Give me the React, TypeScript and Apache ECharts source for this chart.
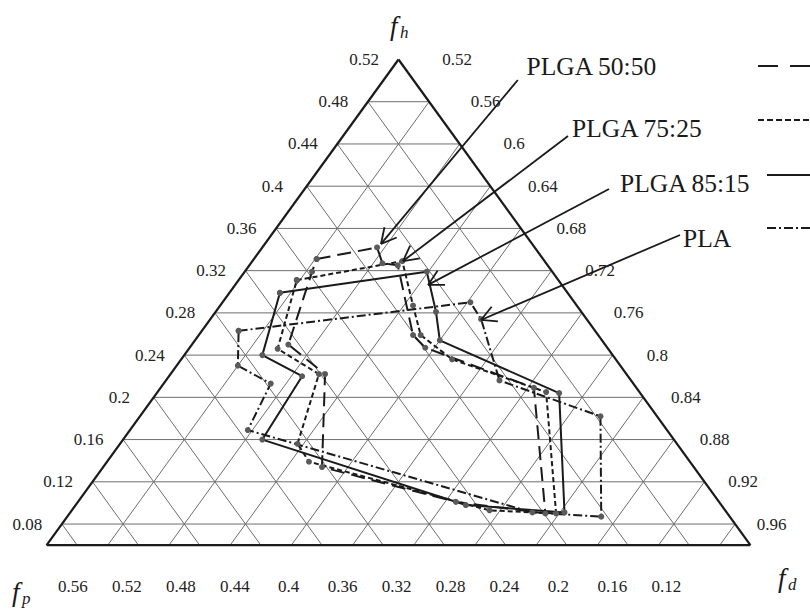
import { useEffect, useRef } from "react";
import * as echarts from "echarts";

// Tick values printed along the three sides of the Teas diagram
const fhTicks = [0.52, 0.48, 0.44, 0.4, 0.36, 0.32, 0.28, 0.24, 0.2, 0.16, 0.12, 0.08];
const fdTicks = [0.52, 0.56, 0.6, 0.64, 0.68, 0.72, 0.76, 0.8, 0.84, 0.88, 0.92, 0.96];
const fpTicks = [0.56, 0.52, 0.48, 0.44, 0.4, 0.36, 0.32, 0.28, 0.24, 0.2, 0.16, 0.12];

const polymers = ["PLGA 50:50", "PLGA 75:25", "PLGA 85:15", "PLA"];

// Solubility region outlines, as fractional parameters (fd, fh)
const plga5050Fd = [0.561, 0.595, 0.606, 0.617, 0.66, 0.674, 0.764, 0.831, 0.767, 0.663, 0.621, 0.583, 0.564];
const plga5050Fh = [0.331, 0.342, 0.327, 0.325, 0.259, 0.247, 0.209, 0.09, 0.101, 0.134, 0.222, 0.25, 0.319];

const plga7525Fd = [0.558, 0.618, 0.646, 0.665, 0.697, 0.774, 0.838, 0.793, 0.652, 0.636, 0.617, 0.578];
const plga7525Fh = [0.311, 0.329, 0.287, 0.259, 0.236, 0.205, 0.09, 0.093, 0.139, 0.156, 0.222, 0.246];

const plga8515Fd = [0.553, 0.639, 0.664, 0.68, 0.783, 0.843, 0.775, 0.611, 0.607, 0.571];
const plga8515Fh = [0.299, 0.319, 0.281, 0.254, 0.204, 0.091, 0.098, 0.16, 0.22, 0.24];

const plaFd = [0.544, 0.682, 0.697, 0.738, 0.821, 0.869, 0.822, 0.597, 0.59, 0.56];
const plaFh = [0.263, 0.29, 0.274, 0.216, 0.182, 0.087, 0.091, 0.169, 0.213, 0.23];

// Triangle limits
const FH_MIN = 0.06;
const FH_MAX = 0.52;

// (fd, fh) -> plane coordinates: horizontal X, vertical fh
const toPlane = (fd: number, fh: number) => [2 * fd + fh - 1.56, fh];

const SERIF = "Liberation Serif";
const INK = "#1a1a1a";

type Seg = [number, number, number, number];

function lattice(): Seg[] {
  const segs: Seg[] = [];
  const inner = fhTicks.filter((h) => h < FH_MAX && h > FH_MIN);
  inner.forEach((h) => {
    const half = FH_MAX - h;
    segs.push([-half, h, half, h]);
  });
  fdTicks.filter((d) => d > 0.52).forEach((d) => {
    segs.push([d - 0.52, 1.04 - d, 2 * d - 1.5, FH_MIN]);
  });
  inner.forEach((h) => {
    segs.push([h - 0.52, h, 2 * h - 0.58, FH_MIN]);
  });
  return segs;
}

const halfBase = FH_MAX - FH_MIN;
const frame: Seg[] = [
  [0, FH_MAX, -halfBase, FH_MIN],
  [-halfBase, FH_MIN, halfBase, FH_MIN],
  [halfBase, FH_MIN, 0, FH_MAX],
];

// Annotation layout in plane coordinates
const annotations = [
  { start: [0.156, 0.5006], tip: [-0.0229, 0.3453], label: [0.1673, 0.5133] },
  { start: [0.2216, 0.4475], tip: [0.0059, 0.3291], label: [0.2268, 0.4542] },
  { start: [0.2752, 0.3974], tip: [0.0386, 0.3065], label: [0.2895, 0.4021] },
  { start: [0.368, 0.3538], tip: [0.1078, 0.2733], label: [0.3719, 0.3509] },
];

const segRender = (style: any) => (_p: any, api: any) => {
  const a = api.coord([api.value(0), api.value(1)]);
  const b = api.coord([api.value(2), api.value(3)]);
  return {
    type: "line",
    shape: { x1: a[0], y1: a[1], x2: b[0], y2: b[1] },
    style,
  };
};

const textRender = (texts: string[]) => (params: any, api: any) => {
  const p = api.coord([api.value(0), api.value(1)]);
  return {
    type: "text",
    x: p[0],
    y: p[1],
    style: {
      text: texts[params.dataIndex],
      fontSize: 17,
      fontFamily: SERIF,
      fill: "#222",
      align: "center",
      verticalAlign: "middle",
      textAlign: "center",
      textVerticalAlign: "middle",
    },
  };
};

function outline(fd: number[], fh: number[]) {
  const pts = fd.map((d, i) => toPlane(d, fh[i]));
  return [...pts, pts[0]];
}

export default function App() {
  const ref = useRef<HTMLDivElement>(null);

  useEffect(() => {
    document.body.style.margin = "0";
    if (!ref.current) return;
    const chart = echarts.init(ref.current, undefined, { renderer: "svg" });

    const fhLabelData = fhTicks.map((h) => [-(FH_MAX - h) - 0.045, h]);
    const fdLabelData = fdTicks.map((d) => [(d - 0.52) * 0.935 + 0.0765, 1.04 - d]);
    const fpLabelData = fpTicks.map((_, i) => [-0.4255 + 0.0705 * i, 0.0213]);

    const lineStyles: any[] = [
      { type: [14, 7], width: 2, color: INK },
      { type: [5, 3], width: 2, color: INK },
      { type: "solid", width: 2, color: INK },
      { type: [9, 3, 2, 3], width: 2, color: INK },
    ];
    const outlines = [
      outline(plga5050Fd, plga5050Fh),
      outline(plga7525Fd, plga7525Fh),
      outline(plga8515Fd, plga8515Fh),
      outline(plaFd, plaFh),
    ];

    const dataSeries = outlines.map((data, i) => ({
      type: "line",
      name: polymers[i],
      data,
      symbol: "circle",
      symbolSize: 6,
      showSymbol: true,
      itemStyle: { color: "#5a5a5a" },
      lineStyle: lineStyles[i],
      silent: true,
      z: 5,
    }));

    const legendY = [66, 120, 175, 228];
    const legendX0 = [758, 758, 767, 767];
    const legendDash: any[] = [[20, 12], [6, 3], null, [9, 3, 2, 3]];

    const axisTitle = (x: number, y: number, main: string, sub: string) => [
      {
        type: "text",
        x,
        y,
        style: {
          text: main,
          fontSize: 27,
          fontStyle: "italic",
          fontFamily: SERIF,
          fill: INK,
          align: "left",
          verticalAlign: "middle",
          textAlign: "left",
          textVerticalAlign: "middle",
        },
      },
      {
        type: "text",
        x: x + 10,
        y: y + 6,
        style: {
          text: sub,
          fontSize: 17,
          fontStyle: "italic",
          fontFamily: SERIF,
          fill: INK,
          align: "left",
          verticalAlign: "middle",
          textAlign: "left",
          textVerticalAlign: "middle",
        },
      },
    ];

    chart.setOption({
      animation: false,
      grid: { left: 16, width: 765, top: 17.27, height: 591.23 },
      xAxis: { type: "value", min: -0.5, max: 0.5, show: false },
      yAxis: { type: "value", min: 0, max: 0.56, show: false },
      series: [
        {
          type: "custom",
          data: lattice(),
          renderItem: segRender({ stroke: "#6e6e6e", lineWidth: 1 }),
          silent: true,
          z: 1,
        },
        {
          type: "custom",
          data: frame,
          renderItem: segRender({ stroke: INK, lineWidth: 2.2 }),
          silent: true,
          z: 2,
        },
        {
          type: "custom",
          data: fhLabelData,
          renderItem: textRender(fhTicks.map(String)),
          silent: true,
          z: 3,
        },
        {
          type: "custom",
          data: fdLabelData,
          renderItem: textRender(fdTicks.map(String)),
          silent: true,
          z: 3,
        },
        {
          type: "custom",
          data: fpLabelData,
          renderItem: textRender(fpTicks.map(String)),
          silent: true,
          z: 3,
        },
        ...dataSeries,
        {
          type: "custom",
          data: annotations.map((a) => a.tip),
          silent: true,
          z: 6,
          renderItem: (params: any, api: any) => {
            const a = annotations[params.dataIndex];
            const s = api.coord(a.start);
            const t = api.coord(a.tip);
            const l = api.coord(a.label);
            const dx = s[0] - t[0];
            const dy = s[1] - t[1];
            const len = Math.hypot(dx, dy);
            const ux = dx / len;
            const uy = dy / len;
            const ang = (28 * Math.PI) / 180;
            const barb = (sgn: number) => {
              const c = Math.cos(sgn * ang);
              const sn = Math.sin(sgn * ang);
              const bx = ux * c - uy * sn;
              const by = ux * sn + uy * c;
              return { x1: t[0], y1: t[1], x2: t[0] + bx * 17, y2: t[1] + by * 17 };
            };
            const st = { stroke: INK, lineWidth: 1.8 };
            return {
              type: "group",
              children: [
                { type: "line", shape: { x1: s[0], y1: s[1], x2: t[0], y2: t[1] }, style: st },
                { type: "line", shape: barb(1), style: st },
                { type: "line", shape: barb(-1), style: st },
                {
                  type: "text",
                  x: l[0],
                  y: l[1],
                  style: {
                    text: polymers[params.dataIndex],
                    fontSize: 25.5,
                    fontFamily: SERIF,
                    fill: INK,
                    align: "left",
                    verticalAlign: "middle",
                    textAlign: "left",
                    textVerticalAlign: "middle",
                  },
                },
              ],
            };
          },
        },
      ],
      graphic: [
        ...legendY.map((y, i) => ({
          type: "line",
          shape: { x1: legendX0[i], y1: y, x2: 812, y2: y },
          style: {
            stroke: INK,
            lineWidth: 2,
            lineDash: legendDash[i] || undefined,
          },
          silent: true,
        })),
        ...axisTitle(390, 26, "f", "h"),
        ...axisTitle(12, 592, "f", "p"),
        ...axisTitle(778, 578, "f", "d"),
      ],
    });

    return () => chart.dispose();
  }, []);

  return <div ref={ref} style={{ width: 810, height: 611 }} />;
}
